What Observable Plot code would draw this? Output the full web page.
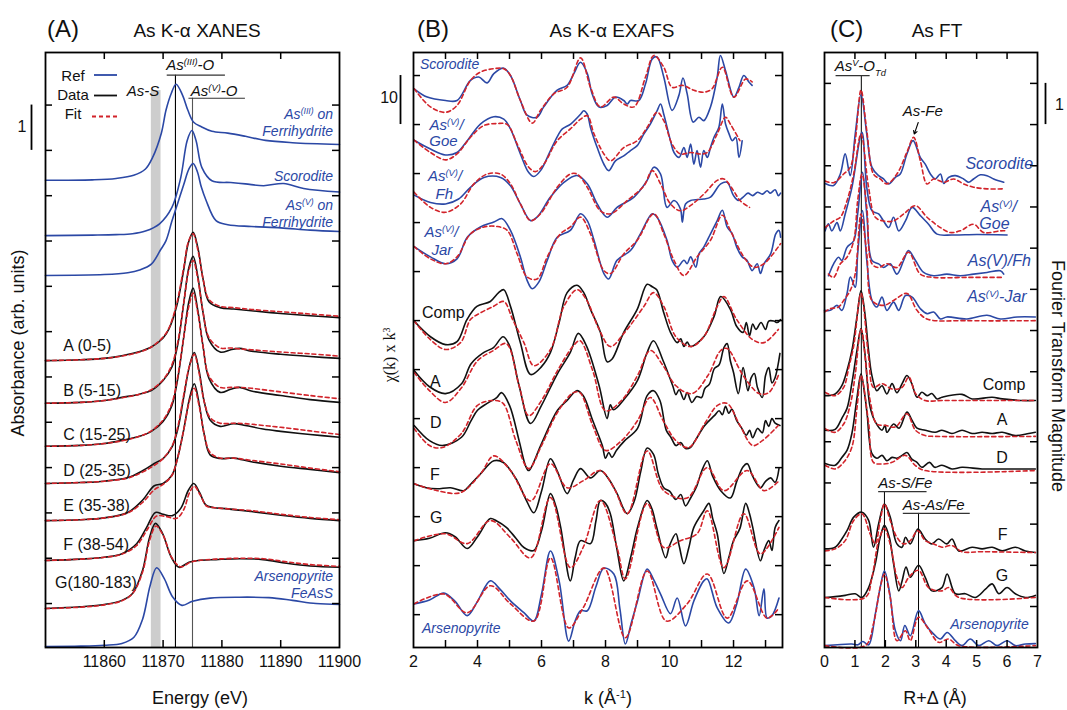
<!DOCTYPE html>
<html><head><meta charset="utf-8">
<script src="https://cdn.jsdelivr.net/npm/d3@7"></script>
<script src="https://cdn.jsdelivr.net/npm/@observablehq/plot@0.6"></script>
<style>
body{margin:0;background:#fff;}
#fig{position:relative;width:1067px;height:710px;background:#fff;}
#fig svg{position:absolute;top:0;overflow:visible;}
</style></head><body><div id="fig"></div>
<script>
// ================= Panel A : XANES (energy eV, normalized absorbance) =================
const xanesAs3Fh = [[11850,0],[11858,0.01],[11862,0.04],[11865,0.11],[11867,0.25],[11868.2,0.5],[11869.7,1.04],[11870.5,1.55],[11871.4,1.92],[11872.2,2.12],[11873.3,1.88],[11874.2,1.55],[11875.2,1.28],[11876.5,1.18],[11878.3,1.08],[11881,1.04],[11884,0.97],[11887.4,0.88],[11892,0.83],[11900,0.79]];
const xanesScor = [[11850,0],[11858,0.01],[11862,0.02],[11864.8,0.04],[11867,0.1],[11869.4,0.26],[11871.5,0.62],[11873,1.28],[11874.1,2.1],[11874.9,2.32],[11875.6,2.1],[11876.6,1.5],[11878.3,1.21],[11881.5,1.17],[11884,1.14],[11887.1,1.1],[11890.5,1.15],[11893.9,1.04],[11900,0.96]];
const xanesAs5Fh = [[11850,0],[11860,0.02],[11864,0.06],[11866,0.12],[11868,0.25],[11869.5,0.55],[11870.5,0.77],[11871.5,1.2],[11872.5,1.6],[11873.5,2.0],[11874.4,2.35],[11875.1,2.47],[11875.8,2.3],[11876.5,1.95],[11877.3,1.66],[11879,1.21],[11881,1.12],[11885,1.08],[11890,1.05],[11895,1.0],[11900,0.97]];
const xanesA = [[11850,0],[11856,0.02],[11860,0.05],[11863,0.11],[11866,0.2],[11868,0.3],[11870,0.5],[11871,0.7],[11872.3,1.2],[11873.5,2.0],[11874.3,2.6],[11875.1,2.83],[11875.9,2.5],[11876.8,1.8],[11877.8,1.3],[11879.7,1.17],[11882,1.14],[11885,1.1],[11890,1.04],[11895,0.99],[11900,0.95]];
const xanesB = [[11850,0],[11856,0.02],[11860,0.06],[11863,0.13],[11866,0.2],[11868,0.28],[11870,0.5],[11871.5,0.8],[11872.5,1.3],[11873.5,2.2],[11874.4,3.0],[11875.1,3.24],[11875.9,2.8],[11876.8,2.0],[11877.8,1.4],[11879.7,1.13],[11881.5,1.18],[11883,1.21],[11885,1.15],[11890,1.08],[11895,1.03],[11900,0.99]];
const xanesC = [[11850,0],[11856,0.02],[11860,0.06],[11863,0.13],[11866,0.22],[11868,0.33],[11870,0.55],[11871.5,0.9],[11872.5,1.5],[11873.5,2.4],[11874.4,3.2],[11875.1,3.49],[11875.9,3.0],[11876.8,2.2],[11877.8,1.5],[11879.7,1.19],[11881.5,1.26],[11883,1.3],[11885,1.22],[11890,1.12],[11895,1.03],[11900,0.97]];
const xanesD = [[11850,0],[11856,0.02],[11860,0.05],[11864,0.13],[11866.5,0.28],[11868.5,0.44],[11870,0.55],[11871.5,0.8],[11872.5,1.2],[11873.5,1.9],[11874.5,2.6],[11875.3,2.89],[11876.1,2.5],[11877,1.8],[11878,1.4],[11879.7,1.26],[11882,1.32],[11884,1.28],[11887,1.2],[11890,1.15],[11895,1.08],[11900,1.02]];
const xanesE = [[11850,0],[11856,0.02],[11860,0.06],[11864,0.18],[11866.5,0.45],[11868.5,0.77],[11870,0.82],[11871.5,1.0],[11872.5,1.4],[11873.5,2.0],[11874.5,2.7],[11875.3,3.02],[11876.1,2.6],[11877,1.9],[11878,1.45],[11879.7,1.37],[11882,1.38],[11885,1.3],[11890,1.2],[11895,1.13],[11900,1.06]];
const xanesF = [[11850,0],[11856,0.03],[11860,0.07],[11863,0.15],[11865.5,0.37],[11867.2,0.73],[11868.7,1.06],[11870,1.02],[11871.6,0.99],[11873,1.15],[11874.3,1.55],[11875.2,1.7],[11876.2,1.5],[11877.3,1.22],[11878.5,1.17],[11881,1.14],[11885,1.08],[11890,1.0],[11895,0.93],[11900,0.88]];
const xanesG = [[11850,0],[11856,0.04],[11860,0.09],[11863,0.18],[11864.8,0.33],[11866.5,0.84],[11867.7,1.57],[11868.7,1.88],[11869.9,1.66],[11871.4,1.13],[11872.7,0.91],[11874.4,1.02],[11876,1.06],[11879,1.08],[11883,1.1],[11887,1.08],[11891,1.0],[11895,0.94],[11900,0.91]];
const xanesApy = [[11850,0],[11856,0.01],[11860,0.03],[11863,0.07],[11865,0.2],[11866.5,0.6],[11867.8,1.35],[11868.9,1.74],[11870.2,1.5],[11871.6,1.1],[11873.2,0.91],[11875,1.0],[11878,1.07],[11883,1.09],[11888,1.08],[11892,1.02],[11896,0.95],[11900,0.93]];
const xanesFitA = [[11850,0],[11856,0.02],[11860,0.05],[11863,0.1],[11866,0.19],[11868,0.3],[11870,0.52],[11871,0.72],[11872.3,1.25],[11873.5,2.05],[11874.3,2.62],[11875.1,2.8],[11875.9,2.45],[11876.8,1.8],[11877.8,1.35],[11879.7,1.2],[11882,1.17],[11885,1.13],[11890,1.08],[11895,1.03],[11900,0.98]];
const xanesFitB = [[11850,0],[11856,0.02],[11860,0.06],[11863,0.12],[11866,0.2],[11868,0.3],[11870,0.52],[11871.5,0.85],[11872.5,1.35],[11873.5,2.2],[11874.4,2.95],[11875.1,3.15],[11875.9,2.75],[11876.8,2.0],[11877.8,1.45],[11879.7,1.22],[11881.5,1.22],[11883,1.2],[11885,1.18],[11890,1.13],[11895,1.09],[11900,1.04]];
const xanesFitC = [[11850,0],[11856,0.02],[11860,0.06],[11863,0.12],[11866,0.22],[11868,0.34],[11870,0.58],[11871.5,0.95],[11872.5,1.55],[11873.5,2.4],[11874.4,3.1],[11875.1,3.38],[11875.9,2.95],[11876.8,2.2],[11877.8,1.55],[11879.7,1.3],[11881.5,1.3],[11883,1.3],[11885,1.28],[11890,1.2],[11895,1.12],[11900,1.05]];
const xanesFitD = [[11850,0],[11856,0.02],[11860,0.05],[11864,0.12],[11866.5,0.25],[11868.5,0.4],[11870,0.55],[11871.5,0.82],[11872.5,1.25],[11873.5,1.95],[11874.5,2.6],[11875.3,2.85],[11876.1,2.45],[11877,1.8],[11878,1.45],[11879.7,1.33],[11882,1.33],[11884,1.32],[11887,1.28],[11890,1.24],[11895,1.16],[11900,1.08]];
const xanesFitE = [[11850,0],[11856,0.02],[11860,0.06],[11864,0.17],[11866.5,0.4],[11868.5,0.68],[11870,0.8],[11871.5,1.0],[11872.5,1.4],[11873.5,2.0],[11874.5,2.65],[11875.3,2.92],[11876.1,2.55],[11877,1.9],[11878,1.5],[11879.7,1.38],[11882,1.38],[11885,1.33],[11890,1.25],[11895,1.16],[11900,1.08]];
const xanesFitF = [[11850,0],[11856,0.03],[11860,0.07],[11863,0.14],[11865.5,0.33],[11867.2,0.66],[11868.9,0.98],[11870.5,0.97],[11872.3,0.93],[11873.5,1.12],[11874.5,1.5],[11875.3,1.64],[11876.3,1.45],[11877.4,1.2],[11878.5,1.17],[11881,1.14],[11885,1.1],[11890,1.02],[11895,0.95],[11900,0.9]];
const xanesFitG = [[11850,0],[11856,0.03],[11860,0.08],[11863,0.17],[11864.8,0.33],[11866.5,0.8],[11867.7,1.5],[11868.8,1.82],[11870,1.62],[11871.5,1.12],[11873,0.92],[11874.6,1.02],[11876,1.06],[11879,1.09],[11883,1.11],[11887,1.1],[11891,1.03],[11895,0.97],[11900,0.93]];
const xanesNames  = ["As(III) on Ferrihydrite","Scorodite","As(V) on Ferrihydrite","A (0-5)","B (5-15)","C (15-25)","D (25-35)","E (35-38)","F (38-54)","G(180-183)","Arsenopyrite FeAsS"];
const xanesKinds  = ["ref","ref","ref","data","data","data","data","data","data","data","ref"];
const xanesOffset = [9.34,8.12,7.24,5.36,4.42,3.47,2.65,1.83,0.95,-0.11,-0.95];
const xanesSpectra = [xanesAs3Fh,xanesScor,xanesAs5Fh,xanesA,xanesB,xanesC,xanesD,xanesE,xanesF,xanesG,xanesApy];
const xanesFits = [null,null,null,xanesFitA,xanesFitB,xanesFitC,xanesFitD,xanesFitE,xanesFitF,xanesFitG,null];
const xanesTickLabels = [11860,11870,11880,11890,11900];
const xanesMinorTicks = [11860,11870,11880,11890];
const xanesYTicks = [0,1,2,3,4,5,6,7,8,9,10,11];
const xanesAsSBand = [11868.0, 11869.65];
const xanesEdgeLines = [{e:11872.1, top:11.66, u1:11870.7, u2:11880.6, c:"#000"},{e:11875.0, top:11.15, u1:11874.4, u2:11884.0, c:"#555"}];

// ================= Panel B : EXAFS (k, chi(k)k^3) =================
const exScor = [[2.02,0.2],[2.43,-1.5],[3.0,-2.2],[3.36,-2.2],[3.78,1.9],[4.04,2.6],[4.3,1.4],[4.51,3.3],[4.82,4.4],[5.03,2.9],[5.34,-2.2],[5.55,-5.2],[5.86,-5.6],[6.07,-3.5],[6.49,-0.1],[6.8,0.9],[7.01,3.3],[7.22,5.6],[7.43,3.3],[7.58,-0.8],[7.79,-3.5],[8.05,-3.2],[8.31,-1.5],[8.57,-2.2],[8.68,-2.9],[8.78,-2.2],[9.04,-2.2],[9.25,1.2],[9.46,6.3],[9.61,6.7],[9.82,2.6],[10.08,-4.2],[10.29,-1.2],[10.42,2.4],[10.55,-0.8],[10.74,-6.6],[10.92,-5.6],[11.07,-6.3],[11.28,-3.5],[11.49,2.6],[11.59,7.0],[11.75,3.9],[12.01,-1.5],[12.17,0.5],[12.32,2.9],[12.48,1.6],[12.58,0.9]];
const exScorFit = [[2.02,0.2],[2.53,-3.5],[3.0,-4.6],[3.36,-3.2],[3.78,1.9],[4.09,3.6],[4.51,4.3],[4.82,4.3],[5.03,2.9],[5.34,-2.2],[5.71,-6.8],[5.97,-4.2],[6.39,-0.8],[6.8,0.5],[7.22,6.5],[7.53,0.5],[7.84,-3.5],[8.26,-1.5],[8.57,-2.9],[8.89,-3.5],[9.25,2.6],[9.51,7.0],[9.82,4.6],[10.08,0.5],[10.4,0.9],[10.76,-0.1],[11.07,-0.5],[11.33,0.2],[11.65,4.6],[12.01,-1.5],[12.38,2.2],[12.58,1.6]];
const exGoe = [[2.02,0.1],[2.53,-1.7],[3.0,-2.9],[3.36,-2.4],[3.68,0],[4.09,3.4],[4.51,4.9],[4.82,4.4],[5.03,2.4],[5.34,-2.7],[5.6,-6.5],[5.76,-7.3],[5.97,-6.1],[6.28,-2.0],[6.54,1.4],[6.65,2.4],[6.91,3.4],[7.22,5.4],[7.32,6.1],[7.43,5.4],[7.53,2.7],[7.74,-1.4],[7.95,-4.8],[8.1,-6.1],[8.31,-4.1],[8.57,-3.1],[8.78,-2.0],[8.99,-1.0],[9.2,1.4],[9.4,3.4],[9.61,6.1],[9.72,7.5],[9.82,5.4],[10.03,0],[10.14,-2.4],[10.3,-3.4],[10.45,-1.4],[10.55,-3.4],[10.66,-0.7],[10.76,-4.8],[10.86,-2.0],[10.97,-5.4],[11.07,-2.0],[11.18,-3.4],[11.28,-1.4],[11.39,0.7],[11.54,2.7],[11.65,7.5],[11.75,3.4],[11.86,1.4],[11.96,0],[12.07,0.7],[12.17,-3.4],[12.27,0]];
const exGoeFit = [[2.02,0.1],[2.53,-2.4],[3.0,-3.9],[3.36,-2.7],[3.78,0.7],[4.2,3.1],[4.61,3.5],[4.93,3.3],[5.24,-0.7],[5.6,-5.4],[5.81,-6.3],[6.07,-4.8],[6.49,0],[6.9,2.4],[7.22,4.4],[7.43,5.1],[7.64,1.4],[7.95,-2.7],[8.16,-4.1],[8.57,-1.4],[8.99,0],[9.3,2.7],[9.61,5.8],[9.82,4.1],[10.08,-0.7],[10.34,-2.7],[10.66,-2.4],[10.97,-2.7],[11.18,-2.4],[11.49,1.4],[11.75,4.8],[11.9,3.4],[12.2,0]];
const exFh = [[2.02,0.1],[2.53,-1.4],[3.0,-1.7],[3.41,-0.7],[3.78,1.7],[4.2,3.7],[4.72,3.7],[5.03,2.0],[5.34,-1.7],[5.66,-5.1],[5.86,-4.4],[6.28,-0.3],[6.7,2.7],[7.11,4.1],[7.43,2.4],[7.74,-1.7],[8.05,-4.4],[8.36,-2.4],[8.89,-0.3],[9.3,3.1],[9.51,5.8],[9.72,4.4],[9.92,-2.4],[10.14,-1.0],[10.34,-2.7],[10.4,-5.4],[10.5,-1.7],[10.66,-1.0],[11.07,-0.7],[11.28,-0.3],[11.6,2.4],[11.8,2.7],[12.0,0],[12.15,-1.0],[12.3,-0.3],[12.45,0.5],[12.6,0],[12.75,0.7],[12.9,0.3],[13.05,1.0],[13.15,0.5],[13.3,1.2],[13.4,0],[13.47,0.5]];
const exFhFit = [[2.02,0.7],[2.53,-2.4],[3.0,-3.4],[3.47,-1.7],[3.89,2.4],[4.3,4.4],[4.72,4.4],[5.03,2.4],[5.34,-1.7],[5.66,-5.1],[5.97,-3.7],[6.49,1.7],[6.9,4.4],[7.11,4.4],[7.43,1.7],[7.84,-3.1],[8.16,-3.7],[8.68,-1.0],[9.2,2.0],[9.46,5.1],[9.72,2.4],[10.03,-1.7],[10.34,-3.1],[10.66,-2.0],[11.07,0.3],[11.49,3.1],[11.7,3.4],[12.0,1.0],[12.2,-1.0],[12.5,-2.4]];
const exJar = [[2.02,0.1],[2.53,-2.0],[3.0,-3.4],[3.36,-2.4],[3.68,2.0],[4.09,4.1],[4.51,5.1],[4.77,5.8],[5.03,3.4],[5.34,-2.0],[5.55,-6.8],[5.71,-8.5],[5.92,-7.1],[6.18,-2.7],[6.49,2.0],[6.9,3.4],[7.22,6.8],[7.43,5.4],[7.64,1.4],[7.95,-5.4],[8.1,-6.5],[8.36,-2.7],[8.78,-0.7],[9.09,2.7],[9.46,6.8],[9.61,6.1],[9.92,1.4],[10.08,-2.7],[10.24,-4.1],[10.45,-2.7],[10.55,-3.4],[10.66,-2.0],[10.82,-4.1],[10.92,-1.4],[11.07,0],[11.28,2.7],[11.49,5.4],[11.65,7.5],[11.8,4.1],[11.96,2.7],[12.1,0],[12.27,-2.0],[12.42,-2.7],[12.58,-4.8],[12.74,-3.4],[12.84,-5.4],[12.95,-3.4],[13.16,-1.4],[13.32,2.7],[13.42,3.4],[13.47,2.0]];
const exJarFit = [[2.02,0.1],[2.53,-2.4],[3.0,-3.4],[3.36,-2.0],[3.78,2.7],[4.2,4.1],[4.61,4.2],[4.93,3.4],[5.24,-1.4],[5.55,-6.1],[5.86,-6.5],[6.18,-2.0],[6.59,2.7],[6.9,4.1],[7.22,6.1],[7.53,2.7],[7.95,-4.8],[8.16,-5.4],[8.57,-1.4],[8.99,1.4],[9.51,6.8],[9.82,2.7],[10.14,-2.7],[10.45,-5.8],[10.86,-2.0],[11.28,1.4],[11.65,6.5],[11.9,3.4],[12.32,-2.0],[12.63,-4.1],[12.95,-3.4],[13.47,0.7]];
const exComp = [[2.02,0.3],[2.53,-2.9],[3.0,-4.5],[3.36,-3.9],[3.67,0.6],[3.98,3.3],[4.4,4.3],[4.66,6.1],[4.82,6.7],[5.03,3.3],[5.34,-4.1],[5.66,-10.6],[6.0,-9.0],[6.28,-6.1],[6.55,0],[6.8,6.1],[7.11,7.6],[7.32,6.1],[7.53,2.7],[7.84,-2.0],[8.05,-8.0],[8.2,-7.5],[8.57,-2.0],[8.99,2.7],[9.3,7.8],[9.46,7.3],[9.6,6.7],[9.82,2.0],[10.03,-2.0],[10.24,-4.1],[10.35,-3.3],[10.45,-4.9],[10.55,-4.0],[10.66,-4.9],[11.07,-2.9],[11.39,1.2],[11.6,5.3],[11.9,2.7],[12.1,-0.8],[12.3,-2.0],[12.4,0],[12.5,-2.7],[12.6,-0.3],[12.7,-1.4],[12.86,0],[13.0,-1.4],[13.1,0.3],[13.26,0.3],[13.36,0],[13.47,0.6]];
const exCompFit = [[2.02,0.3],[2.53,-3.5],[3.0,-5.5],[3.47,-4.1],[3.78,0.6],[4.1,2.0],[4.5,3.3],[4.82,4.3],[5.1,0.6],[5.45,-4.1],[5.76,-8.8],[6.28,-5.5],[6.7,3.3],[7.11,6.7],[7.4,4.7],[7.8,-1.4],[8.15,-4.9],[8.6,-2.0],[9.2,3.3],[9.5,6.1],[9.82,3.3],[10.2,-2.9],[10.66,-4.9],[11.07,-2.9],[11.49,3.3],[11.7,5.3],[12.1,0.6],[12.6,-3.5],[12.95,-4.1],[13.4,-1.4]];
const exA = [[2.02,0],[2.5,-3.3],[3.0,-4.7],[3.5,-2.7],[3.8,1.4],[4.2,3.7],[4.5,4.7],[4.8,6.9],[5.0,5.1],[5.3,-3.1],[5.66,-10.8],[6.0,-7.1],[6.5,-0.6],[6.9,3.7],[7.15,7.6],[7.4,5.1],[7.8,-3.1],[8.05,-9.8],[8.15,-7.0],[8.25,-8.0],[8.6,-5.7],[9.0,-2.0],[9.3,3.7],[9.5,6.1],[9.8,2.0],[10.1,-3.1],[10.2,-4.9],[10.3,-3.9],[10.45,-5.9],[10.55,-4.5],[10.7,-6.5],[10.85,-5.3],[11.0,-5.5],[11.1,-3.7],[11.25,-2.7],[11.4,0.4],[11.55,1.2],[11.7,4.7],[11.8,5.5],[11.9,2.0],[12.0,-0.4],[12.15,-4.7],[12.3,0.6],[12.45,-4.1],[12.55,-1.5],[12.65,-0.6],[12.75,-3.5],[12.9,-5.5],[13.0,-1.0],[13.1,0.6],[13.2,-2.5],[13.3,-1.4],[13.45,3.5]];
const exAFit = [[2.02,-0.4],[2.5,-4.1],[3.0,-6.5],[3.5,-3.5],[4.0,2.0],[4.5,4.1],[4.9,5.5],[5.3,-3.1],[5.6,-9.2],[6.0,-6.1],[6.5,0],[7.0,5.1],[7.2,6.1],[7.6,0],[8.0,-8.2],[8.5,-6.1],[9.0,-1.0],[9.4,4.1],[9.8,1.0],[10.2,-3.1],[10.7,-4.7],[11.2,-1.0],[11.6,4.1],[11.8,4.5],[12.3,-1.0],[12.8,-4.7],[13.1,-4.5],[13.4,-1.0]];
const exD = [[2.02,0],[2.5,-3.1],[2.9,-4.1],[3.5,-2.4],[3.8,1.0],[4.0,3.1],[4.3,4.5],[4.6,5.7],[4.75,6.7],[5.0,4.1],[5.3,-3.1],[5.5,-8.2],[5.6,-9.2],[6.0,-3.7],[6.5,3.1],[6.8,5.1],[7.1,7.1],[7.3,6.1],[7.6,1.0],[7.9,-4.1],[8.0,-6.7],[8.1,-5.5],[8.2,-6.5],[8.35,-5.0],[8.6,-3.1],[9.0,-0.6],[9.3,6.1],[9.5,7.1],[9.7,5.1],[9.9,-1.0],[10.05,-2.5],[10.2,-4.1],[10.35,-3.5],[10.5,-4.7],[10.65,-4.5],[10.8,-3.1],[11.1,0],[11.4,2.0],[11.55,3.0],[11.65,2.2],[11.75,3.9],[11.85,2.5],[11.95,3.3],[12.1,1.0],[12.25,-0.5],[12.4,-2.0],[12.5,-1.0],[12.6,-2.5],[12.75,-0.6],[12.9,-1.5],[13.0,1.0],[13.1,-0.2],[13.2,1.4],[13.3,0.5],[13.45,0]];
const exDFit = [[2.02,-0.6],[2.5,-4.1],[2.9,-4.5],[3.5,-1.6],[4.0,4.1],[4.5,5.1],[4.8,4.5],[5.2,-3.1],[5.6,-8.8],[6.0,-4.1],[6.5,2.7],[7.0,6.7],[7.2,6.7],[7.6,0],[8.0,-5.1],[8.5,-3.1],[9.0,1.0],[9.4,5.7],[9.8,1.0],[10.2,-3.1],[10.6,-4.5],[11.1,0.4],[11.5,4.1],[11.8,4.5],[12.2,0],[12.6,-4.1],[12.9,-3.1],[13.4,0]];
const exF = [[2.02,0],[2.4,-0.8],[2.74,-1.0],[3.16,-0.8],[3.57,-1.4],[3.8,0],[4.09,2.0],[4.51,4.7],[4.82,4.3],[5.24,0.6],[5.5,-3.0],[5.76,-5.9],[6.0,-1.5],[6.28,5.1],[6.5,2.5],[6.8,-2.0],[7.0,0.8],[7.22,3.1],[7.53,1.2],[7.84,2.7],[8.1,1.0],[8.36,-2.0],[8.68,-6.1],[8.9,-3.5],[9.1,2.5],[9.3,7.3],[9.5,6.0],[9.65,2.0],[9.82,-0.8],[10.0,-1.5],[10.2,-3.2],[10.35,-2.2],[10.5,-4.5],[10.65,-3.0],[10.85,-0.5],[11.0,2.5],[11.18,4.7],[11.35,1.5],[11.6,-1.4],[11.9,-2.9],[12.1,0.5],[12.3,3.5],[12.43,4.1],[12.6,1.5],[12.84,-0.8],[13.0,0.5],[13.16,1.2],[13.3,0.3],[13.42,3.1]];
const exFFit = [[2.02,0],[2.74,-1.4],[3.47,-1.8],[4.09,2.0],[4.51,5.7],[5.03,2.7],[5.66,-3.5],[6.28,4.1],[6.8,-0.8],[7.3,0.6],[7.84,2.7],[8.26,-0.8],[8.68,-6.1],[9.3,6.7],[9.82,-1.4],[10.55,-2.9],[11.18,3.3],[11.7,-1.4],[12.43,2.7],[12.95,-1.4],[13.42,0.6]];
const exG = [[2.02,0],[2.5,0.5],[3.0,1.6],[3.3,0.8],[3.68,-1.6],[4.0,0.8],[4.4,4.5],[4.6,4.0],[4.9,2.7],[5.2,0.5],[5.45,-1.4],[5.76,-2.0],[6.0,2.0],[6.28,9.6],[6.45,7.0],[6.6,2.7],[6.9,-8.2],[7.05,-3.5],[7.22,0],[7.53,-0.6],[7.7,4.0],[7.84,8.2],[8.0,7.6],[8.15,5.5],[8.35,-1.5],[8.57,-8.2],[8.8,-3.0],[9.0,2.7],[9.3,8.2],[9.45,6.5],[9.6,2.7],[9.88,-3.5],[10.0,-1.0],[10.2,1.4],[10.3,-1.0],[10.45,-4.7],[10.6,-1.5],[10.76,2.7],[11.07,6.1],[11.23,7.6],[11.35,4.5],[11.49,1.4],[11.7,-6.7],[11.85,-3.5],[12.0,0],[12.2,2.5],[12.38,7.6],[12.5,5.5],[12.6,2.7],[12.84,-4.1],[12.95,-2.0],[13.1,0],[13.2,-2.0],[13.3,2.7],[13.42,4.1]];
const exGFit = [[2.02,0],[3.0,1.4],[3.68,-0.6],[4.4,4.1],[5.03,0.6],[5.66,-3.5],[6.28,8.8],[6.9,-5.5],[7.3,-1.4],[7.84,8.2],[8.36,-1.4],[8.62,-7.8],[9.3,7.6],[9.82,-1.4],[10.34,0],[10.86,1.4],[11.18,6.1],[11.7,-5.5],[12.32,5.5],[12.84,-2.7],[13.42,2.7]];
const exApy = [[2.02,0],[2.5,0.8],[2.95,2.2],[3.3,0.5],[3.68,-2.4],[4.0,0.5],[4.4,4.7],[4.7,3.0],[5.03,0.6],[5.45,-1.8],[5.76,-3.5],[6.0,2.0],[6.28,10.8],[6.55,4.7],[6.85,-7.6],[7.05,-3.5],[7.22,-1.4],[7.43,-1.4],[7.7,3.5],[7.95,7.3],[8.26,6.1],[8.45,-1.0],[8.62,-8.2],[8.8,-4.0],[9.0,0.6],[9.3,7.1],[9.5,5.0],[9.72,2.0],[10.03,-2.0],[10.24,1.2],[10.5,-4.5],[10.76,0.6],[11.07,4.7],[11.18,5.1],[11.49,-0.8],[11.85,-3.9],[12.1,0],[12.38,7.1],[12.64,3.3],[12.8,-2.4],[12.95,3.1],[13.05,-2.9],[13.2,-2.4],[13.42,1.2]];
const exApyFit = [[2.02,0],[2.95,2.0],[3.68,-1.8],[4.4,3.7],[5.03,0],[5.76,-3.5],[6.28,9.4],[6.85,-4.9],[7.3,-0.8],[7.95,7.3],[8.62,-6.9],[9.3,6.7],[9.9,-3.5],[10.55,0],[11.18,6.1],[11.8,-2.9],[12.43,4.7],[13.05,-2.9],[13.42,-0.8]];
const exNames  = ["Scorodite","As(V)/Goe","As(V)/Fh","As(V)/Jar","Comp","A","D","F","G","Arsenopyrite"];
const exKinds  = ["ref","ref","ref","ref","data","data","data","data","data","ref"];
const exOffset = [107.1,96.7,85.5,75.0,59.6,49.8,38.6,26.7,15.1,2.2];
const exSpectra = [exScor,exGoe,exFh,exJar,exComp,exA,exD,exF,exG,exApy];
const exFits = [exScorFit,exGoeFit,exFhFit,exJarFit,exCompFit,exAFit,exDFit,exFFit,exGFit,exApyFit];
const exTickLabels = [2,4,6,8,10,12];
const exMinorTicks = [3,4,5,6,7,8,9,10,11,12,13];
const exYTicks = [0,10,20,30,40,50,60,70,80,90,100,110];

// ================= Panel C : FT magnitude (R+Δ, |FT|) =================
const ftScor = [[0.02,0.15],[0.3,0.1],[0.52,0.38],[0.68,0.87],[0.845,0.34],[1.01,1.35],[1.2,2.31],[1.39,1.35],[1.56,0.54],[1.78,0.34],[1.94,0.26],[2.11,0.14],[2.33,0.3],[2.49,0.38],[2.71,0.87],[2.91,1.19],[3.15,0.78],[3.31,0.62],[3.48,0.38],[3.64,0.26],[3.81,0.38],[3.92,0.15],[4.08,0.3],[4.3,0.34],[4.57,0.26],[4.74,0.18],[4.9,0.26],[5.12,0.36],[5.34,0.34],[5.56,0.26],[5.89,0.18]];
const ftScorFit = [[0.02,0.21],[0.3,0.17],[0.63,0.38],[0.845,0.54],[1.01,1.19],[1.2,2.42],[1.39,1.43],[1.61,0.38],[1.83,0.26],[2.05,0.14],[2.38,0.38],[2.71,0.91],[2.93,1.27],[3.15,0.7],[3.37,0.14],[3.59,0.26],[3.92,0.18],[4.24,0.26],[4.57,0.14],[4.9,0.06],[5.34,0.02],[5.89,0.02]];
const ftGoe = [[0.02,0.12],[0.13,0.29],[0.24,0.12],[0.41,0.32],[0.52,0.12],[0.68,0.53],[0.9,1.17],[1.23,2.51],[1.39,1.17],[1.56,0.61],[1.78,0.53],[1.94,0.36],[2.11,0.2],[2.27,0.45],[2.44,0.12],[2.66,0.36],[2.88,0.69],[3.15,0.49],[3.42,0.28],[3.7,0.04],[4.2,0.02],[5.0,0.03],[6.0,0.02]];
const ftGoeFit = [[0.02,0.2],[0.3,0.36],[0.52,0.45],[0.74,0.85],[0.96,1.5],[1.2,2.47],[1.45,1.17],[1.67,0.45],[1.94,0.36],[2.27,0.36],[2.6,0.53],[2.99,0.73],[3.37,0.45],[3.81,0.2],[4.13,0.08],[4.46,0.12],[4.9,0.28],[5.23,0.08],[5.78,0.12],[6.0,0.12]];
const ftFh = [[0.13,0.07],[0.3,0.36],[0.46,0.52],[0.57,0.44],[0.74,0.76],[0.96,0.92],[1.09,1.57],[1.25,2.58],[1.39,1.57],[1.56,0.44],[1.78,0.36],[1.94,0.27],[2.16,0.36],[2.38,0.11],[2.6,0.44],[2.76,0.68],[2.99,0.44],[3.26,0.15],[3.59,0.07],[4.02,0.11],[4.46,0.07],[4.9,0.11],[5.34,0.15],[5.78,0.19],[5.89,0.11]];
const ftFhFit = [[0.13,0.11],[0.3,0.03],[0.52,0.36],[0.74,0.52],[0.96,0.92],[1.09,1.89],[1.23,2.54],[1.39,1.73],[1.56,0.36],[1.78,0.27],[2.05,0.36],[2.38,0.27],[2.76,0.64],[3.15,0.11],[3.59,0.03],[4.68,0.03],[5.89,0.03]];
const ftJar = [[0.0,0.27],[0.19,0.27],[0.41,0.39],[0.57,0.27],[0.74,0.68],[0.85,1.08],[1.01,0.83],[1.09,1.64],[1.25,2.69],[1.39,1.48],[1.56,0.51],[1.72,0.35],[1.89,0.59],[2.05,0.27],[2.27,0.47],[2.44,0.27],[2.66,0.63],[2.88,0.59],[3.15,0.31],[3.37,0.19],[3.59,0.23],[3.81,0.06],[4.02,0.11],[4.68,0.06],[5.34,0.15],[5.78,0.06],[6.33,0.11],[6.93,0.11]];
const ftJarFit = [[0.0,0.23],[0.19,0.31],[0.46,0.35],[0.63,0.51],[0.85,0.76],[1.01,1.16],[1.2,2.61],[1.39,1.64],[1.56,0.51],[1.94,0.39],[2.27,0.51],[2.71,0.68],[3.04,0.27],[3.37,0.06],[4.68,0.02],[6.93,0.02]];
const ftComp = [[0.02,0.12],[0.35,0.16],[0.57,0.36],[0.74,0.73],[0.9,1.21],[1.07,2.05],[1.2,2.67],[1.33,2.1],[1.45,1.2],[1.56,0.6],[1.72,0.24],[1.89,0.36],[2.05,0.16],[2.22,0.41],[2.38,0.19],[2.55,0.41],[2.71,0.61],[2.87,0.41],[3.04,0.08],[3.2,0.2],[3.37,0.12],[3.53,0.17],[3.7,0.04],[3.86,0.08],[4.52,0.15],[4.85,0.04],[5.51,0.08],[5.84,0.04],[6.49,0],[6.93,0]];
const ftCompFit = [[0.02,0.2],[0.35,0.12],[0.63,0.32],[0.8,0.81],[0.96,1.33],[1.2,2.6],[1.45,1.05],[1.61,0.32],[1.89,0.41],[2.22,0.28],[2.55,0.32],[2.77,0.57],[3.0,0.16],[3.31,0],[3.86,0],[6.93,0]];
const ftA = [[0.02,0.15],[0.35,0.17],[0.57,0.44],[0.74,0.68],[0.9,1.29],[1.07,2.1],[1.2,2.62],[1.33,2.0],[1.5,0.71],[1.67,0.35],[1.89,0.15],[1.99,0.27],[2.05,0.1],[2.27,0.3],[2.45,0.2],[2.71,0.59],[2.87,0.4],[3.04,0.2],[3.31,0.15],[3.64,0.1],[3.86,0.15],[4.19,0.07],[4.52,0.15],[4.85,0.07],[5.18,0.1],[5.51,0.07],[5.84,0.1],[6.27,0.02],[6.71,0.07],[6.93,0.1]];
const ftAFit = [[0.02,0.19],[0.35,0.1],[0.63,0.3],[0.85,0.78],[1.01,1.5],[1.2,2.6],[1.5,0.87],[1.72,0.3],[1.99,0.27],[2.33,0.23],[2.71,0.55],[2.99,0.15],[3.31,0.02],[3.64,0],[6.93,0]];
const ftD = [[0.02,0.17],[0.35,0.13],[0.57,0.32],[0.74,0.49],[0.9,0.9],[1.07,1.78],[1.2,2.35],[1.33,1.8],[1.4,1.38],[1.56,0.41],[1.72,0.3],[1.89,0.37],[2.05,0.24],[2.22,0.32],[2.38,0.3],[2.55,0.37],[2.71,0.44],[2.87,0.28],[3.04,0.2],[3.2,0.08],[3.45,0.2],[3.62,0.08],[3.86,0.13],[4.19,0.04],[4.52,0.08],[5.18,0.04],[5.84,0.04],[6.93,0.04]];
const ftDFit = [[0.02,0.13],[0.35,0.04],[0.63,0.2],[0.9,0.57],[1.07,1.54],[1.2,2.3],[1.45,1.16],[1.61,0.2],[1.89,0.16],[2.22,0.2],[2.66,0.37],[2.99,0.12],[3.31,0],[6.93,0]];
const ftF = [[0.02,0.09],[0.35,0.13],[0.57,0.33],[0.74,0.53],[0.96,0.86],[1.23,0.98],[1.45,0.78],[1.61,0.13],[1.78,0.7],[1.97,1.18],[2.16,0.86],[2.38,0.21],[2.55,0.13],[2.66,0.37],[2.82,0.21],[3.07,0.57],[3.31,0.33],[3.53,0.21],[3.75,0.33],[4.02,0.21],[4.19,0.33],[4.41,0.04],[4.85,0.13],[5.18,0.09],[5.51,0.13],[5.84,0.04],[6.27,0.13],[6.6,0.04],[6.93,0]];
const ftFFit = [[0.02,0.04],[0.35,0.09],[0.68,0.29],[0.96,0.78],[1.23,0.94],[1.5,0.45],[1.67,0.21],[1.83,0.78],[1.97,1.18],[2.16,0.78],[2.38,0.37],[2.6,0.21],[2.82,0.29],[3.07,0.53],[3.31,0.29],[3.59,0.21],[3.86,0.13],[4.19,0.17],[4.52,0.02],[5.18,0.02],[6.93,0]];
const ftG = [[0.02,0],[0.35,0.02],[0.68,0.05],[1.01,0.09],[1.23,0],[1.45,0.24],[1.67,0.82],[1.83,1.46],[1.97,1.75],[2.13,1.46],[2.27,0.82],[2.44,0.16],[2.55,0.4],[2.68,0.74],[2.82,0.49],[3.09,0.78],[3.31,0.49],[3.53,0.16],[3.86,0.24],[4.03,0.57],[4.3,0.09],[4.63,0.09],[4.96,0],[5.29,0.2],[5.51,0.33],[5.73,0.09],[6.0,0.24],[6.27,0.09],[6.6,0],[6.93,0.05]];
const ftGFit = [[0.02,0],[1.34,0],[1.56,0.49],[1.78,1.38],[1.97,1.67],[2.16,1.29],[2.38,0.49],[2.55,0.24],[2.77,0.49],[3.09,0.66],[3.42,0.24],[3.86,0.16],[4.08,0.24],[4.41,0],[6.93,0]];
const ftApy = [[0.02,0],[0.9,0.04],[1.1,0.02],[1.26,0.1],[1.45,0.02],[1.67,0.77],[1.83,1.41],[1.97,1.82],[2.13,1.33],[2.33,0.36],[2.5,0.12],[2.64,0.49],[2.82,0.24],[3.09,0.85],[3.31,0.53],[3.59,0.28],[3.81,0.16],[4.03,0.32],[4.3,0.12],[4.52,0],[4.79,0.16],[5.07,0],[5.4,0.12],[5.67,0],[6.0,0.12],[6.27,0],[6.6,0.04],[6.93,0.05]];
const ftApyFit = [[0.02,0],[1.34,0],[1.61,0.53],[1.83,1.41],[1.97,1.74],[2.16,1.17],[2.38,0.12],[2.66,0.36],[2.82,0.12],[3.09,0.69],[3.42,0.4],[3.75,0.08],[4.08,0.16],[4.41,0],[6.93,0]];
const ftNames  = ["Scorodite","As(V)/Goe","As(V)/Fh","As(V)-Jar","Comp","A","D","F","G","Arsenopyrite"];
const ftKinds  = ["ref","ref","ref","ref","data","data","data","data","data","ref"];
const ftOffset = [10.12,9.0,7.96,6.92,5.0,4.13,3.3,1.31,0.22,-0.95];
const ftSpectra = [ftScor,ftGoe,ftFh,ftJar,ftComp,ftA,ftD,ftF,ftG,ftApy];
const ftFits = [ftScorFit,ftGoeFit,ftFhFit,ftJarFit,ftCompFit,ftAFit,ftDFit,ftFFit,ftGFit,ftApyFit];
const ftTickLabels = [0,1,2,3,4,5,6,7];
const ftMinorTicks = [1,2,3,4,5,6];
const ftYTicks = [0,1,2,3,4,5.7,6.7,7.7,8.7,9.7,10.7,11.7,12.7];
const ftPaths = [{r:1.21, top:12.89, u1:0.38, u2:1.5},{r:1.97, top:2.79, u1:1.78, u2:3.37},{r:3.09, top:2.26, u1:2.59, u2:4.79}];

// ================= rendering =================
const BLUE = "#2b48a5", RED = "#d2232a", BLACK = "#111";
const FONT = "Liberation Sans, Arial, Helvetica, sans-serif";
const H = 710, MT = 52, MB = 63, FH = H - MT - MB;

function toRows(names, offsets, list, keep) {
  const out = [];
  list.forEach((arr, i) => {
    if (!arr || (keep && !keep(i))) return;
    for (const [x, v] of arr) out.push({s: names[i], x, y: v + offsets[i]});
  });
  return out;
}

function panel({left, width, ml, mr, xDomain, yDomain, names, kinds, offsets, spectra, fits, xLabels, xMinor, yTicks, under = [], over = []}) {
  const FW = width - ml - mr;
  const refRows = toRows(names, offsets, spectra, i => kinds[i] === "ref");
  const dataRows = toRows(names, offsets, spectra, i => kinds[i] === "data");
  const fitRows = toRows(names, offsets, fits);
  const lineOpts = {x: "x", y: "y", z: "s", strokeWidth: 1.6, curve: "catmull-rom"};
  const tickStyle = {stroke: "#000", strokeWidth: 1.5};
  const chart = Plot.plot({
    width, height: H, marginLeft: ml, marginRight: mr, marginTop: MT, marginBottom: MB,
    x: {domain: xDomain},
    y: {domain: yDomain, axis: null},
    style: {fontFamily: FONT, fontSize: "16px", background: "transparent", color: "#111", overflow: "visible"},
    marks: [
      ...under,
      Plot.line(refRows, {...lineOpts, stroke: BLUE}),
      Plot.line(dataRows, {...lineOpts, stroke: BLACK}),
      Plot.line(fitRows, {...lineOpts, stroke: RED, strokeDasharray: "4,3"}),
      Plot.tickX(xMinor, {x: d => d, insetBottom: FH - 7, ...tickStyle}),
      Plot.tickX(xMinor, {x: d => d, insetTop: FH - 7, ...tickStyle}),
      Plot.tickY(yTicks, {y: d => d, insetRight: FW - 7, ...tickStyle}),
      Plot.tickY(yTicks, {y: d => d, insetLeft: FW - 7, ...tickStyle}),
      Plot.axisX(xLabels, {tickSize: 0, tickPadding: 8, fontSize: 16, label: null, tickFormat: d => String(d)}),
      Plot.frame({stroke: "#000", strokeWidth: 1.8}),
      ...over
    ]
  });
  chart.style.left = left + "px";
  document.getElementById("fig").appendChild(chart);
  const xs = d3.scaleLinear(xDomain, [ml, width - mr]);
  const ys = d3.scaleLinear(yDomain, [H - MB, MT]);
  return {svg: chart, xs, ys};
}

function txt(svg, x, y, parts, o = {}) {
  const size = o.size || 15;
  const t = d3.select(svg).append("text").attr("x", x).attr("y", y)
    .attr("font-size", size).attr("fill", o.color || "#111")
    .attr("text-anchor", o.anchor || "start")
    .attr("font-family", o.family || FONT);
  if (o.italic) t.attr("font-style", "italic");
  if (o.rotate) t.attr("transform", `rotate(${o.rotate},${x},${y})`);
  for (const p of (Array.isArray(parts) ? parts : [parts])) {
    if (typeof p === "string") t.append("tspan").text(p);
    else t.append("tspan").attr("font-size", size * 0.62)
      .attr("baseline-shift", p.sup ? "super" : "sub").text(p.sup || p.sub);
  }
  return t;
}
function labelAt(P, L) { txt(P.svg, P.xs(L.x), P.ys(L.y), L.t, L); }

// ---- Panel A ----
const yA = [-0.97, 12.16];
const PA = panel({
  left: 0, width: 365, ml: 45, mr: 26, xDomain: [11850, 11900], yDomain: yA,
  names: xanesNames, kinds: xanesKinds, offsets: xanesOffset, spectra: xanesSpectra, fits: xanesFits,
  xLabels: xanesTickLabels, xMinor: xanesMinorTicks, yTicks: xanesYTicks,
  under: [
    Plot.rect([xanesAsSBand], {x1: d => d[0], x2: d => d[1], y1: yA[0], y2: 11.32, fill: "#cdcdcd"}),
    Plot.ruleX(xanesEdgeLines, {x: "e", y1: "top", y2: yA[0], stroke: "c", strokeWidth: 1.1}),
    Plot.ruleY(xanesEdgeLines, {y: "top", x1: "u1", x2: "u2", stroke: "#333", strokeWidth: 1.2})
  ],
  over: [Plot.ruleX([11850], {y1: 10, y2: 11, dx: -14, stroke: "#000", strokeWidth: 1.8})]
});
const xanesLabels = [
  {x: 11899, y: 10.68, t: ["As", {sup: "(III)"}, " on"], anchor: "end", italic: 1, color: BLUE, size: 14},
  {x: 11899, y: 10.31, t: "Ferrihydrite", anchor: "end", italic: 1, color: BLUE, size: 14},
  {x: 11899, y: 9.32, t: "Scorodite", anchor: "end", italic: 1, color: BLUE, size: 14},
  {x: 11899, y: 8.68, t: ["As", {sup: "(V)"}, " on"], anchor: "end", italic: 1, color: BLUE, size: 14},
  {x: 11899, y: 8.3, t: "Ferrihydrite", anchor: "end", italic: 1, color: BLUE, size: 14},
  {x: 11899, y: 0.49, t: "Arsenopyrite", anchor: "end", italic: 1, color: BLUE, size: 14},
  {x: 11899, y: 0.11, t: "FeAsS", anchor: "end", italic: 1, color: BLUE, size: 14},
  {x: 11853.1, y: 5.56, t: "A (0-5)", size: 16},
  {x: 11853.1, y: 4.57, t: "B (5-15)", size: 16},
  {x: 11853.1, y: 3.6, t: "C (15-25)", size: 16},
  {x: 11853.1, y: 2.8, t: "D (25-35)", size: 16},
  {x: 11853.1, y: 2.03, t: "E (35-38)", size: 16},
  {x: 11853.1, y: 1.17, t: "F (38-54)", size: 16},
  {x: 11851.7, y: 0.33, t: "G(180-183)", size: 16},
  {x: 11863.9, y: 11.2, t: "As-S", italic: 1, size: 15},
  {x: 11870.6, y: 11.76, t: ["As", {sup: "(III)"}, "-O"], italic: 1, size: 15},
  {x: 11874.8, y: 11.2, t: ["As", {sup: "(V)"}, "-O"], italic: 1, size: 15}
];
xanesLabels.forEach(L => labelAt(PA, L));
txt(PA.svg, 47, 37, "(A)", {size: 24});
txt(PA.svg, 197, 37, "As K-α XANES", {size: 19, anchor: "middle"});
txt(PA.svg, 22, 132, "1", {size: 16, anchor: "middle"});
txt(PA.svg, 200, 704, "Energy (eV)", {size: 18, anchor: "middle"});
txt(PA.svg, 24, 343, "Absorbance (arb. units)", {size: 18, anchor: "middle", rotate: -90});
// legend
txt(PA.svg, 73, 81, "Ref", {size: 15, anchor: "middle"});
txt(PA.svg, 73, 100, "Data", {size: 15, anchor: "middle"});
txt(PA.svg, 73, 119, "Fit", {size: 15, anchor: "middle"});
const lg = d3.select(PA.svg);
lg.append("line").attr("x1", 94).attr("x2", 117).attr("y1", 75).attr("y2", 75).attr("stroke", BLUE).attr("stroke-width", 1.8);
lg.append("line").attr("x1", 94).attr("x2", 117).attr("y1", 95.5).attr("y2", 95.5).attr("stroke", BLACK).attr("stroke-width", 1.8);
lg.append("line").attr("x1", 92).attr("x2", 117).attr("y1", 116.5).attr("y2", 116.5).attr("stroke", RED).attr("stroke-width", 1.8).attr("stroke-dasharray", "4,3");

// ---- Panel B ----
const yB = [-6.7, 114.7];
const PB = panel({
  left: 365, width: 430, ml: 48, mr: 13, xDomain: [2, 13.53], yDomain: yB,
  names: exNames, kinds: exKinds, offsets: exOffset, spectra: exSpectra, fits: exFits,
  xLabels: exTickLabels, xMinor: exMinorTicks, yTicks: exYTicks,
  over: [Plot.ruleX([2], {y1: 100, y2: 110, dx: -13, stroke: "#000", strokeWidth: 1.8})]
});
const exLabels = [
  {x: 2.22, y: 111.2, t: "Scorodite", italic: 1, color: BLUE, size: 14},
  {x: 3.05, y: 98.8, t: ["As", {sup: "(V)"}, "/"], anchor: "middle", italic: 1, color: BLUE, size: 15},
  {x: 2.95, y: 95.5, t: "Goe", anchor: "middle", italic: 1, color: BLUE, size: 15},
  {x: 3.0, y: 88.4, t: ["As", {sup: "(V)"}, "/"], anchor: "middle", italic: 1, color: BLUE, size: 15},
  {x: 2.98, y: 84.7, t: "Fh", anchor: "middle", italic: 1, color: BLUE, size: 15},
  {x: 2.89, y: 76.9, t: ["As", {sup: "(V)"}, "/"], anchor: "middle", italic: 1, color: BLUE, size: 15},
  {x: 2.9, y: 73.3, t: "Jar", anchor: "middle", italic: 1, color: BLUE, size: 15},
  {x: 2.28, y: 60.4, t: "Comp", size: 16},
  {x: 2.53, y: 46.3, t: "A", size: 16},
  {x: 2.53, y: 38.0, t: "D", size: 16},
  {x: 2.53, y: 27.3, t: "F", size: 16},
  {x: 2.53, y: 18.6, t: "G", size: 16},
  {x: 2.28, y: -3.9, t: "Arsenopyrite", italic: 1, color: BLUE, size: 14}
];
exLabels.forEach(L => labelAt(PB, L));
txt(PB.svg, 52, 37, "(B)", {size: 24});
txt(PB.svg, 247, 37, "As K-α EXAFS", {size: 19, anchor: "middle"});
txt(PB.svg, 33, 103, "10", {size: 16, anchor: "end"});
txt(PB.svg, 243, 704, ["k (Å", {sup: "-1"}, ")"], {size: 18, anchor: "middle"});
txt(PB.svg, 30, 355, ["χ(k) x k", {sup: "3"}], {size: 16, anchor: "middle", rotate: -90, family: "Liberation Serif, Times New Roman, serif"});

// ---- Panel C ----
const yC = [-0.995, 13.45];
const PC = panel({
  left: 795, width: 272, ml: 29, mr: 30, xDomain: [0, 7], yDomain: yC,
  names: ftNames, kinds: ftKinds, offsets: ftOffset, spectra: ftSpectra, fits: ftFits,
  xLabels: ftTickLabels, xMinor: ftMinorTicks, yTicks: ftYTicks,
  under: [
    Plot.ruleX(ftPaths, {x: "r", y1: "top", y2: yC[0], stroke: "#000", strokeWidth: 1}),
    Plot.ruleY(ftPaths, {y: "top", x1: "u1", x2: "u2", stroke: "#333", strokeWidth: 1.2})
  ],
  over: [
    Plot.ruleX([7], {y1: 11.7, y2: 12.7, dx: 8, stroke: "#000", strokeWidth: 1.8}),
    Plot.arrow([{x1: 3.08, y1: 11.75, x2: 2.95, y2: 11.47}], {x1: "x1", y1: "y1", x2: "x2", y2: "y2", stroke: "#000", strokeWidth: 1.1, headLength: 5})
  ]
});
const ftLabels = [
  {x: 6.87, y: 10.61, t: "Scorodite", anchor: "end", italic: 1, color: BLUE, size: 16},
  {x: 6.34, y: 9.56, t: ["As", {sup: "(V)"}, "/"], anchor: "end", italic: 1, color: BLUE, size: 16},
  {x: 6.1, y: 9.15, t: "Goe", anchor: "end", italic: 1, color: BLUE, size: 16},
  {x: 6.8, y: 8.25, t: "As(V)/Fh", anchor: "end", italic: 1, color: BLUE, size: 16},
  {x: 6.66, y: 7.38, t: ["As", {sup: "(V)"}, "-Jar"], anchor: "end", italic: 1, color: BLUE, size: 16},
  {x: 6.62, y: 5.24, t: "Comp", anchor: "end", size: 16},
  {x: 5.85, y: 4.39, t: "A", anchor: "middle", size: 16},
  {x: 5.85, y: 3.47, t: "D", anchor: "middle", size: 16},
  {x: 5.87, y: 1.6, t: "F", anchor: "middle", size: 16},
  {x: 5.85, y: 0.61, t: "G", anchor: "middle", size: 16},
  {x: 6.73, y: -0.56, t: "Arsenopyrite", anchor: "end", italic: 1, color: BLUE, size: 14},
  {x: 2.59, y: 11.89, t: "As-Fe", italic: 1, size: 15},
  {x: 0.35, y: 12.98, t: ["As", {sup: "V"}, "-O", {sub: "Td"}], italic: 1, size: 15},
  {x: 1.78, y: 2.86, t: "As-S/Fe", italic: 1, size: 15},
  {x: 2.59, y: 2.33, t: "As-As/Fe", italic: 1, size: 15}
];
ftLabels.forEach(L => labelAt(PC, L));
txt(PC.svg, 35, 37, "(C)", {size: 24});
txt(PC.svg, 142, 37, "As FT", {size: 19, anchor: "middle"});
txt(PC.svg, 260, 110, "1", {size: 16});
txt(PC.svg, 140, 704, "R+Δ (Å)", {size: 18, anchor: "middle"});
txt(PC.svg, 257, 376, "Fourier Transform Magnitude", {size: 18, anchor: "middle", rotate: 90});
</script></body></html>
